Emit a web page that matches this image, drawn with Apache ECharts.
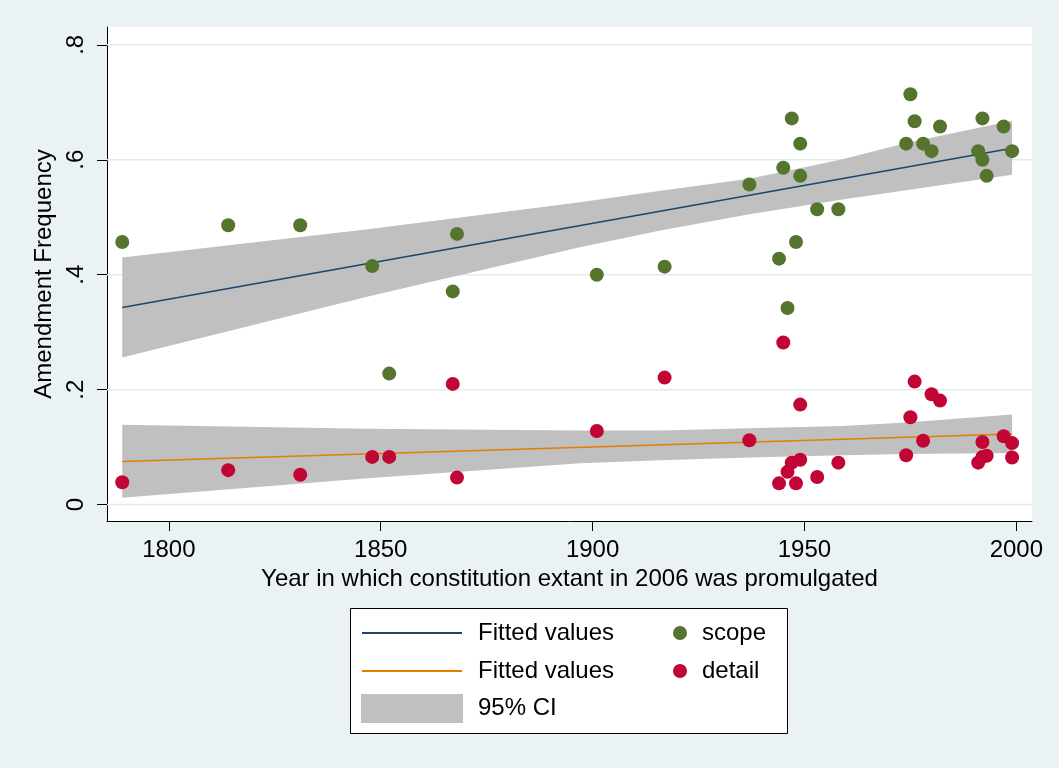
<!DOCTYPE html>
<html lang="en">
<head>
<meta charset="UTF-8" />
<title>Amendment Frequency by Year</title>
<script src="https://cdn.jsdelivr.net/npm/echarts@6.0.0/dist/echarts.min.js"></script>
<style>
  html, body { margin: 0; padding: 0; background: #eaf2f3; }
  #main { width: 1059px; height: 768px; }
</style>
</head>
<body>
<div id="main"></div>
<script>
// ticks
const xTicks = [1800, 1850, 1900, 1950, 2000]
const yTicks = [0, 0.2, 0.4, 0.6, 0.8]

// scope points (year promulgated, amendment frequency)
const scopeYears = [1789, 1814, 1831, 1848, 1852, 1867, 1868,
  1901, 1917, 1937, 1944, 1945, 1946, 1947, 1948, 1949, 1949, 1953, 1958,
  1974, 1975, 1976, 1978, 1980, 1982,
  1991, 1992, 1992, 1993, 1997, 1999]
const scopeValues = [0.457, 0.486, 0.486, 0.415, 0.228, 0.371, 0.471,
  0.400, 0.414, 0.557, 0.428, 0.586, 0.342, 0.672, 0.457, 0.628, 0.572, 0.514, 0.514,
  0.628, 0.714, 0.667, 0.628, 0.615, 0.658,
  0.615, 0.672, 0.600, 0.572, 0.658, 0.615]

// detail points
const detailYears = [1789, 1814, 1831, 1848, 1852, 1867, 1868,
  1901, 1917, 1937, 1944, 1945, 1946, 1947, 1948, 1949, 1949, 1953, 1958,
  1974, 1975, 1976, 1978, 1980, 1982,
  1991, 1992, 1992, 1993, 1997, 1999, 1999]
const detailValues = [0.039, 0.060, 0.052, 0.083, 0.083, 0.210, 0.047,
  0.128, 0.221, 0.112, 0.037, 0.282, 0.057, 0.073, 0.037, 0.174, 0.078, 0.048, 0.073,
  0.086, 0.152, 0.214, 0.111, 0.192, 0.181,
  0.073, 0.109, 0.083, 0.085, 0.119, 0.107, 0.082]

// fitted lines
const fitYears = [1789, 1999]
const fitScopeValues = [0.343, 0.620]
const fitDetailValues = [0.075, 0.123]

// 95% CI edges
const ciYears = [1789, 1847, 1897, 1916, 1937, 1959, 1974, 1999]
const ciScopeLower = [0.256, 0.362, 0.448, 0.477, 0.505, 0.531, 0.547, 0.574]
const ciScopeUpper = [0.430, 0.479, 0.526, 0.546, 0.567, 0.601, 0.629, 0.668]
const ciDetailLower = [0.012, 0.046, 0.072, 0.077, 0.082, 0.086, 0.088, 0.090]
const ciDetailUpper = [0.139, 0.132, 0.129, 0.129, 0.133, 0.137, 0.143, 0.157]

const FONT = "'Liberation Sans', Arial, Helvetica, sans-serif"
const GREEN = '#55752f'
const RED = '#c10534'
const NAVY = '#1a476f'
const ORANGE = '#e37e00'
const CI_GRAY = '#c0c0c0'

const chart = echarts.init(document.getElementById('main'))

function pairs(xs, ys) {
  return xs.map((x, i) => [x, ys[i]])
}

// one polygon per band: upper edge left->right, lower edge right->left
function bandSeries(lower, upper, name) {
  return {
    name: name,
    type: 'custom',
    silent: true,
    z: 2,
    itemStyle: { color: CI_GRAY },
    data: ciYears.map((x, i) => [x, lower[i], upper[i]]),
    encode: { x: 0, y: [1, 2] },
    renderItem: function (params, api) {
      if (params.dataIndex !== 0) return
      const top = ciYears.map((x, i) => api.coord([x, upper[i]]))
      const bottom = ciYears.map((x, i) => api.coord([x, lower[i]])).reverse()
      return {
        type: 'polygon',
        shape: { points: top.concat(bottom) },
        style: { fill: CI_GRAY, stroke: 'none' },
      }
    },
  }
}

// horizontal grid lines at the y ticks
const gridSeries = {
  type: 'custom',
  silent: true,
  z: 1,
  data: yTicks.map(v => [v]),
  encode: { y: 0 },
  renderItem: function (params, api) {
    const cs = params.coordSys
    const y = api.coord([1800, api.value(0)])[1]
    return {
      type: 'line',
      shape: { x1: cs.x, y1: y, x2: cs.x + cs.width, y2: y },
      style: { stroke: '#e2ebee', lineWidth: 1.5 },
    }
  },
}

const legendText = {
  fontFamily: FONT,
  fontSize: 24,
  lineHeight: 28,
  color: '#000',
}

const option = {
  backgroundColor: '#eaf2f3',
  animation: false,
  textStyle: { fontFamily: FONT },
  grid: {
    left: 107,
    top: 27,
    width: 925,
    height: 494,
    show: true,
    backgroundColor: '#ffffff',
    borderWidth: 0,
  },
  xAxis: {
    type: 'value',
    min: 1785.4,
    max: 2003.7,
    name: 'Year in which constitution extant in 2006 was promulgated',
    nameLocation: 'middle',
    nameGap: 41,
    nameTextStyle: { fontFamily: FONT, fontSize: 24, color: '#000' },
    axisLine: { show: true, onZero: false, lineStyle: { color: '#000', width: 1 } },
    axisTick: { show: true, length: 10, customValues: xTicks, lineStyle: { color: '#000' } },
    axisLabel: {
      customValues: xTicks,
      margin: 17,
      fontFamily: FONT,
      fontSize: 24,
      color: '#000',
      formatter: v => String(v),
    },
    splitLine: { show: false },
  },
  yAxis: {
    type: 'value',
    min: -0.0285,
    max: 0.831,
    name: 'Amendment Frequency',
    nameLocation: 'middle',
    nameRotate: 90,
    nameGap: 50,
    nameTextStyle: { fontFamily: FONT, fontSize: 24, color: '#000' },
    axisLine: { show: true, onZero: false, lineStyle: { color: '#000', width: 1 } },
    axisTick: { show: true, length: 10, customValues: yTicks, lineStyle: { color: '#000' } },
    axisLabel: {
      customValues: yTicks,
      rotate: 90,
      margin: 19,
      fontFamily: FONT,
      fontSize: 24,
      color: '#000',
      formatter: v => (v === 0 ? '0' : String(+v.toFixed(1)).replace(/^0\./, '.')),
    },
    splitLine: { show: false },
  },
  graphic: [
    {
      type: 'rect',
      z: 0,
      shape: { x: 350.5, y: 608.5, width: 437, height: 125 },
      style: { fill: '#ffffff', stroke: '#000', lineWidth: 1 },
    },
  ],
  legend: [
    {
      orient: 'vertical',
      left: 362,
      top: 619,
      padding: 0,
      itemGap: 10,
      itemWidth: 100,
      itemHeight: 2,
      selectedMode: false,
      formatter: name => (name.indexOf('fit') === 0 ? 'Fitted values' : name),
      textStyle: Object.assign({ padding: [0, 0, 0, 11] }, legendText),
      data: [
        { name: 'fitScope', icon: 'rect', itemStyle: { color: NAVY, borderWidth: 0 } },
        { name: 'fitDetail', icon: 'rect', itemStyle: { color: ORANGE, borderWidth: 0 } },
      ],
    },
    {
      orient: 'vertical',
      left: 361,
      top: 694,
      padding: 0,
      itemWidth: 102,
      itemHeight: 29,
      selectedMode: false,
      textStyle: Object.assign({ padding: [0, 0, 0, 10] }, legendText),
      data: [
        { name: '95% CI', icon: 'rect', itemStyle: { color: CI_GRAY, borderWidth: 0 } },
      ],
    },
    {
      orient: 'vertical',
      left: 673,
      top: 619,
      padding: 0,
      itemGap: 10,
      itemWidth: 14,
      itemHeight: 14,
      selectedMode: false,
      textStyle: Object.assign({ padding: [0, 0, 0, 10] }, legendText),
      data: [
        { name: 'scope', icon: 'circle', itemStyle: { color: GREEN, borderWidth: 0 } },
        { name: 'detail', icon: 'circle', itemStyle: { color: RED, borderWidth: 0 } },
      ],
    },
  ],
  series: [
    gridSeries,
    bandSeries(ciScopeLower, ciScopeUpper, '95% CI'),
    bandSeries(ciDetailLower, ciDetailUpper, '95% CI'),
    {
      name: 'fitScope',
      type: 'line',
      symbol: 'none',
      z: 3,
      itemStyle: { color: NAVY },
      lineStyle: { color: NAVY, width: 1.6 },
      data: pairs(fitYears, fitScopeValues),
    },
    {
      name: 'fitDetail',
      type: 'line',
      symbol: 'none',
      z: 3,
      itemStyle: { color: ORANGE },
      lineStyle: { color: ORANGE, width: 1.6 },
      data: pairs(fitYears, fitDetailValues),
    },
    {
      name: 'scope',
      type: 'scatter',
      symbol: 'circle',
      symbolSize: 14,
      z: 4,
      itemStyle: { color: GREEN, opacity: 1 },
      data: pairs(scopeYears, scopeValues),
    },
    {
      name: 'detail',
      type: 'scatter',
      symbol: 'circle',
      symbolSize: 14,
      z: 4,
      itemStyle: { color: RED, opacity: 1 },
      data: pairs(detailYears, detailValues),
    },
  ],
}

chart.setOption(option)
</script>
</body>
</html>
